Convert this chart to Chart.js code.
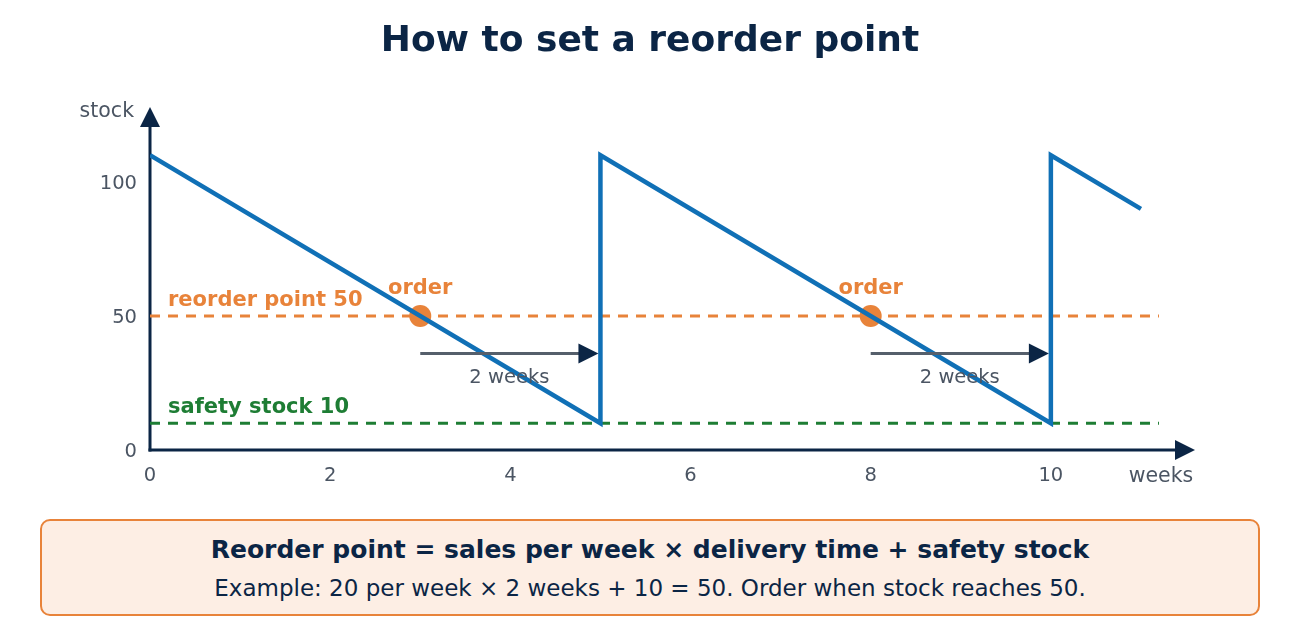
<!DOCTYPE html>
<html>
<head>
<meta charset="utf-8">
<title>How to set a reorder point</title>
<script src="https://cdn.jsdelivr.net/npm/chart.js@4/dist/chart.umd.min.js"></script>
<style>
  body { margin: 0; background: #fff; font-family: "DejaVu Sans", sans-serif; }
  #wrap { position: relative; width: 1300px; height: 640px; }
  #chartBox { position: absolute; left: 0; top: 0; width: 1300px; height: 500px; }
  #note {
    position: absolute; left: 40px; top: 519px; width: 1220px; height: 97px;
    box-sizing: border-box; border: 2px solid #e8833a; border-radius: 10px;
    background: #fdeee4; color: #0b2545; text-align: center;
  }
  #note .l1 { position: absolute; left: 0; right: 0; top: 14px; font-size: 25px; font-weight: bold; }
  #note .l2 { position: absolute; left: 0; right: 0; top: 54px; font-size: 23px; }
</style>
</head>
<body>
<div id="wrap">
  <div id="chartBox"><canvas id="reorderChart"></canvas></div>
  <div id="note">
    <div class="l1">Reorder point = sales per week × delivery time + safety stock</div>
    <div class="l2">Example: 20 per week × 2 weeks + 10 = 50. Order when stock reaches 50.</div>
  </div>
</div>
<script>
// stock over time (weeks), sawtooth with deliveries at week 5 and 10
const weeks = [0, 5, 5, 10, 10, 11];
const stock = [110, 10, 110, 10, 110, 90];
const reorderPoint = 50;
const safetyStock = 10;
const orderWeeks = [3, 8];
const leadTime = 2;
const xTickLabels = [0, 2, 4, 6, 8, 10];
const yTickLabels = [0, 50, 100];
const refLineEnd = 11.2;
const arrowLevel = 36;

const navy = "#0b2545";
const blue = "#1070b6";
const orange = "#e8833a";
const green = "#1e7d34";
const grey = "#4b5563";
const FONT = "'DejaVu Sans', sans-serif";

document.addEventListener("DOMContentLoaded", function () {
    let ctx = document.getElementById("reorderChart").getContext("2d");

    const decor = {
        id: "decor",
        beforeDatasetsDraw(chart) {
            const c = chart.ctx, a = chart.chartArea;
            c.save();
            c.strokeStyle = navy;
            c.fillStyle = navy;
            c.lineWidth = 3;
            // y axis with arrow
            c.beginPath();
            c.moveTo(a.left, a.bottom + 1.5);
            c.lineTo(a.left, a.top + 18);
            c.stroke();
            c.beginPath();
            c.moveTo(a.left, a.top);
            c.lineTo(a.left - 10, a.top + 20);
            c.lineTo(a.left + 10, a.top + 20);
            c.closePath();
            c.fill();
            // x axis with arrow
            c.beginPath();
            c.moveTo(a.left - 1.5, a.bottom);
            c.lineTo(a.right - 18, a.bottom);
            c.stroke();
            c.beginPath();
            c.moveTo(a.right, a.bottom);
            c.lineTo(a.right - 20, a.bottom - 10);
            c.lineTo(a.right - 20, a.bottom + 10);
            c.closePath();
            c.fill();
            // axis titles
            c.fillStyle = grey;
            c.font = "20.5px " + FONT;
            c.textBaseline = "middle";
            c.textAlign = "right";
            c.fillText("stock", a.left - 16, a.top + 5);
            c.textAlign = "center";
            c.fillText("weeks", a.right - 34, a.bottom + 27);
            c.restore();
        },
        afterDatasetsDraw(chart) {
            const c = chart.ctx, a = chart.chartArea;
            const x = chart.scales.x, y = chart.scales.y;
            c.save();
            // delivery time arrows
            orderWeeks.forEach(function (w) {
                const x0 = x.getPixelForValue(w);
                const x1 = x.getPixelForValue(w + leadTime) - 2;
                const yy = y.getPixelForValue(arrowLevel);
                c.strokeStyle = "#555f6b";
                c.lineWidth = 3;
                c.beginPath();
                c.moveTo(x0, yy);
                c.lineTo(x1 - 18, yy);
                c.stroke();
                c.fillStyle = navy;
                c.beginPath();
                c.moveTo(x1, yy);
                c.lineTo(x1 - 20, yy - 10);
                c.lineTo(x1 - 20, yy + 10);
                c.closePath();
                c.fill();
                c.fillStyle = grey;
                c.font = "19.5px " + FONT;
                c.textAlign = "center";
                c.textBaseline = "middle";
                c.fillText(leadTime + " weeks", (x0 + x1) / 2, yy + 24);
                // order label
                c.fillStyle = orange;
                c.font = "bold 21px " + FONT;
                c.fillText("order", x0, y.getPixelForValue(reorderPoint) - 27);
            });
            // reference line labels
            c.textAlign = "left";
            c.textBaseline = "middle";
            c.font = "bold 21px " + FONT;
            c.fillStyle = orange;
            c.fillText("reorder point " + reorderPoint, a.left + 18, y.getPixelForValue(reorderPoint) - 15);
            c.fillStyle = green;
            c.fillText("safety stock " + safetyStock, a.left + 18, y.getPixelForValue(safetyStock) - 16);
            // title
            c.fillStyle = navy;
            c.font = "bold 36px " + FONT;
            c.textAlign = "center";
            c.fillText("How to set a reorder point", 650, 42);
            c.restore();
        }
    };

    new Chart(ctx, {
        type: "line",
        data: {
            datasets: [{
                label: "stock",
                data: weeks.map((w, i) => ({ x: w, y: stock[i] })),
                borderColor: blue,
                borderWidth: 4.5,
                borderJoinStyle: "miter",
                pointRadius: 0,
                tension: 0
            }, {
                label: "reorder point",
                data: [{ x: 0, y: reorderPoint }, { x: refLineEnd, y: reorderPoint }],
                borderColor: orange,
                borderWidth: 3,
                borderDash: [10, 8],
                pointRadius: 0
            }, {
                label: "safety stock",
                data: [{ x: 0, y: safetyStock }, { x: refLineEnd, y: safetyStock }],
                borderColor: green,
                borderWidth: 3,
                borderDash: [10, 8],
                pointRadius: 0
            }, {
                label: "order",
                data: orderWeeks.map(w => ({ x: w, y: reorderPoint })),
                showLine: false,
                pointRadius: 11,
                pointBackgroundColor: orange,
                pointBorderWidth: 0
            }]
        },
        options: {
            responsive: true,
            maintainAspectRatio: false,
            animation: false,
            layout: { padding: { left: 0, top: 107, right: 105, bottom: 10 } },
            plugins: { legend: { display: false }, tooltip: { enabled: false } },
            scales: {
                x: {
                    type: "linear",
                    min: 0,
                    max: 11.6,
                    grid: { display: false, drawTicks: false },
                    border: { display: false },
                    afterFit: s => { s.height = 40; },
                    ticks: {
                        stepSize: 2,
                        includeBounds: false,
                        padding: 14,
                        color: grey,
                        font: { family: FONT, size: 19.5 },
                        callback: v => xTickLabels.includes(v) ? v : ""
                    }
                },
                y: {
                    min: 0,
                    max: 128,
                    grid: { display: false, drawTicks: false },
                    border: { display: false },
                    afterFit: s => { s.width = 150; },
                    ticks: {
                        stepSize: 50,
                        includeBounds: false,
                        padding: 13,
                        labelOffset: 2,
                        color: grey,
                        font: { family: FONT, size: 19.5 },
                        callback: v => yTickLabels.includes(v) ? v : ""
                    }
                }
            }
        },
        plugins: [decor]
    });
});
</script>
</body>
</html>
